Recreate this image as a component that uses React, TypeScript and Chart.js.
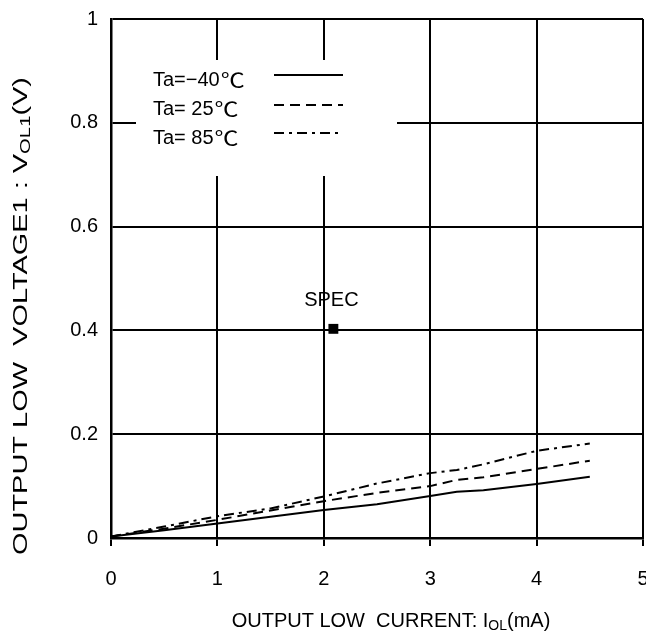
import React, { useEffect, useRef } from "react";
import { Chart, registerables } from "chart.js";

Chart.register(...registerables);

const currents = [0, 0.5, 1, 1.5, 2, 2.5, 3, 3.25, 3.5, 4, 4.5];
const voltMinus40 = [0.003, 0.015, 0.028, 0.041, 0.054, 0.065, 0.081, 0.089, 0.092, 0.104, 0.118];
const volt25 = [0.003, 0.018, 0.035, 0.053, 0.071, 0.087, 0.1, 0.112, 0.117, 0.133, 0.149];
const volt85 = [0.003, 0.022, 0.042, 0.057, 0.08, 0.105, 0.125, 0.131, 0.142, 0.168, 0.182];
const specPoint = [{ x: 2.09, y: 0.403 }];
const legendLabels = ["Ta=\u221240", "Ta= 25", "Ta= 85"];
const degreeSign = "\u2103";
const dashes: number[][] = [[], [10, 6], [10, 5, 3, 5]];

const FONT = "'Liberation Sans', Arial, sans-serif";
const CJK = "'Noto Sans CJK JP', 'DejaVu Sans', sans-serif";

const toXY = (ys: number[]) => ys.map((y, i) => ({ x: currents[i], y }));

type Part = { t: string; sub?: boolean };

const measureParts = (ctx: CanvasRenderingContext2D, parts: Part[], size: number) => {
  const subSize = Math.round(size * 0.68);
  let total = 0;
  for (const p of parts) {
    ctx.font = `${p.sub ? subSize : size}px ${FONT}`;
    total += ctx.measureText(p.t).width;
  }
  return total;
};

const drawWithSub = (ctx: CanvasRenderingContext2D, parts: Part[], cx: number, cy: number, size: number) => {
  const subSize = Math.round(size * 0.68);
  const total = measureParts(ctx, parts, size);
  let x = cx - total / 2;
  ctx.textBaseline = "middle";
  ctx.textAlign = "left";
  for (const p of parts) {
    ctx.font = `${p.sub ? subSize : size}px ${FONT}`;
    ctx.fillText(p.t, x, p.sub ? cy + size * 0.28 : cy);
    x += ctx.measureText(p.t).width;
  }
};

const overlayPlugin = {
  id: "overlay",
  afterDraw(chart: any) {
    const ctx: CanvasRenderingContext2D = chart.ctx;
    const xs = chart.scales.x;
    const ys = chart.scales.y;
    ctx.save();
    // legend box
    ctx.fillStyle = "#fff";
    ctx.fillRect(136, 60, 261, 116);
    ctx.fillStyle = "#000";
    ctx.strokeStyle = "#000";
    ctx.textBaseline = "middle";
    ctx.textAlign = "left";
    const rowsY = [80, 109, 138];
    const lineY = [75, 105, 133];
    legendLabels.forEach((lab, i) => {
      ctx.font = `20px ${FONT}`;
      ctx.fillText(lab, 153, rowsY[i]);
      const w = ctx.measureText(lab).width;
      ctx.font = `20px ${CJK}`;
      const dw = ctx.measureText(degreeSign).width || 16;
      ctx.save();
      ctx.translate(153 + w + 1, rowsY[i]);
      ctx.scale(24 / dw, 1);
      ctx.fillText(degreeSign, 0, 0);
      ctx.restore();
      ctx.beginPath();
      ctx.lineWidth = 2;
      ctx.setLineDash(dashes[i]);
      ctx.moveTo(274, lineY[i]);
      ctx.lineTo(343, lineY[i]);
      ctx.stroke();
    });
    ctx.setLineDash([]);
    // SPEC label
    ctx.textAlign = "center";
    ctx.font = `20px ${FONT}`;
    ctx.fillText("SPEC", xs.getPixelForValue(specPoint[0].x) - 2, ys.getPixelForValue(specPoint[0].y) - 28);
    // x title
    drawWithSub(ctx, [{ t: "OUTPUT LOW  CURRENT: I" }, { t: "OL", sub: true }, { t: "(mA)" }], 391, 621, 20);
    // y title (stretched along its direction)
    const yParts: Part[] = [{ t: "OUTPUT LOW  VOLTAGE1 : V" }, { t: "OL1", sub: true }, { t: "(V)" }];
    const natural = measureParts(ctx, yParts, 20);
    const k = 478 / natural;
    ctx.save();
    ctx.translate(21, 316);
    ctx.rotate(-Math.PI / 2);
    ctx.scale(k, 1);
    drawWithSub(ctx, yParts, 0, 0, 20);
    ctx.restore();
    ctx.restore();
  },
};

export default function App() {
  const ref = useRef<HTMLCanvasElement | null>(null);
  useEffect(() => {
    if (!ref.current) return;
    const chart = new Chart(ref.current, {
      type: "line",
      data: {
        datasets: [
          { label: "-40", data: toXY(voltMinus40), borderColor: "#000", borderWidth: 2, pointRadius: 0, tension: 0 },
          {
            label: "25",
            data: toXY(volt25),
            borderColor: "#000",
            borderWidth: 2,
            borderDash: dashes[1],
            pointRadius: 0,
            tension: 0,
          },
          {
            label: "85",
            data: toXY(volt85),
            borderColor: "#000",
            borderWidth: 2,
            borderDash: dashes[2],
            pointRadius: 0,
            tension: 0,
          },
          {
            label: "SPEC",
            data: specPoint,
            showLine: false,
            pointStyle: "rect",
            pointRadius: 7,
            backgroundColor: "#000",
            borderColor: "#000",
            borderWidth: 0,
          },
        ],
      },
      options: {
        animation: false,
        responsive: false,
        layout: { padding: { top: 19, right: 0, left: 0, bottom: 0 } },
        plugins: { legend: { display: false }, tooltip: { enabled: false } },
        scales: {
          x: {
            type: "linear",
            min: 0,
            max: 5,
            ticks: {
              stepSize: 1,
              color: "#000",
              font: { family: FONT, size: 20 },
              padding: 21,
              maxRotation: 0,
            },
            grid: { color: "#000", lineWidth: 2, tickLength: 8, tickColor: "#000" },
            border: { color: "#000", width: 2.5 },
            afterFit: (s: any) => {
              s.height = 100;
              s.paddingLeft = 0;
              s.paddingRight = 0;
            },
          },
          y: {
            type: "linear",
            min: 0,
            max: 1,
            ticks: {
              stepSize: 0.2,
              color: "#000",
              font: { family: FONT, size: 20 },
              padding: 13,
              callback: (v: any) => String(Math.round(Number(v) * 10) / 10),
            },
            grid: { color: "#000", lineWidth: 2, drawTicks: false },
            border: { color: "#000", width: 2.5 },
            afterFit: (s: any) => {
              s.width = 111;
              s.paddingTop = 0;
              s.paddingBottom = 0;
            },
          },
        },
      },
      plugins: [overlayPlugin],
    });
    return () => chart.destroy();
  }, []);
  return (
    <div
      style={{
        position: "fixed",
        left: 0,
        top: 0,
        width: 646,
        height: 638,
        overflow: "hidden",
        background: "#fff",
      }}
    >
      <canvas ref={ref} width={650} height={638} style={{ display: "block" }} />
    </div>
  );
}
